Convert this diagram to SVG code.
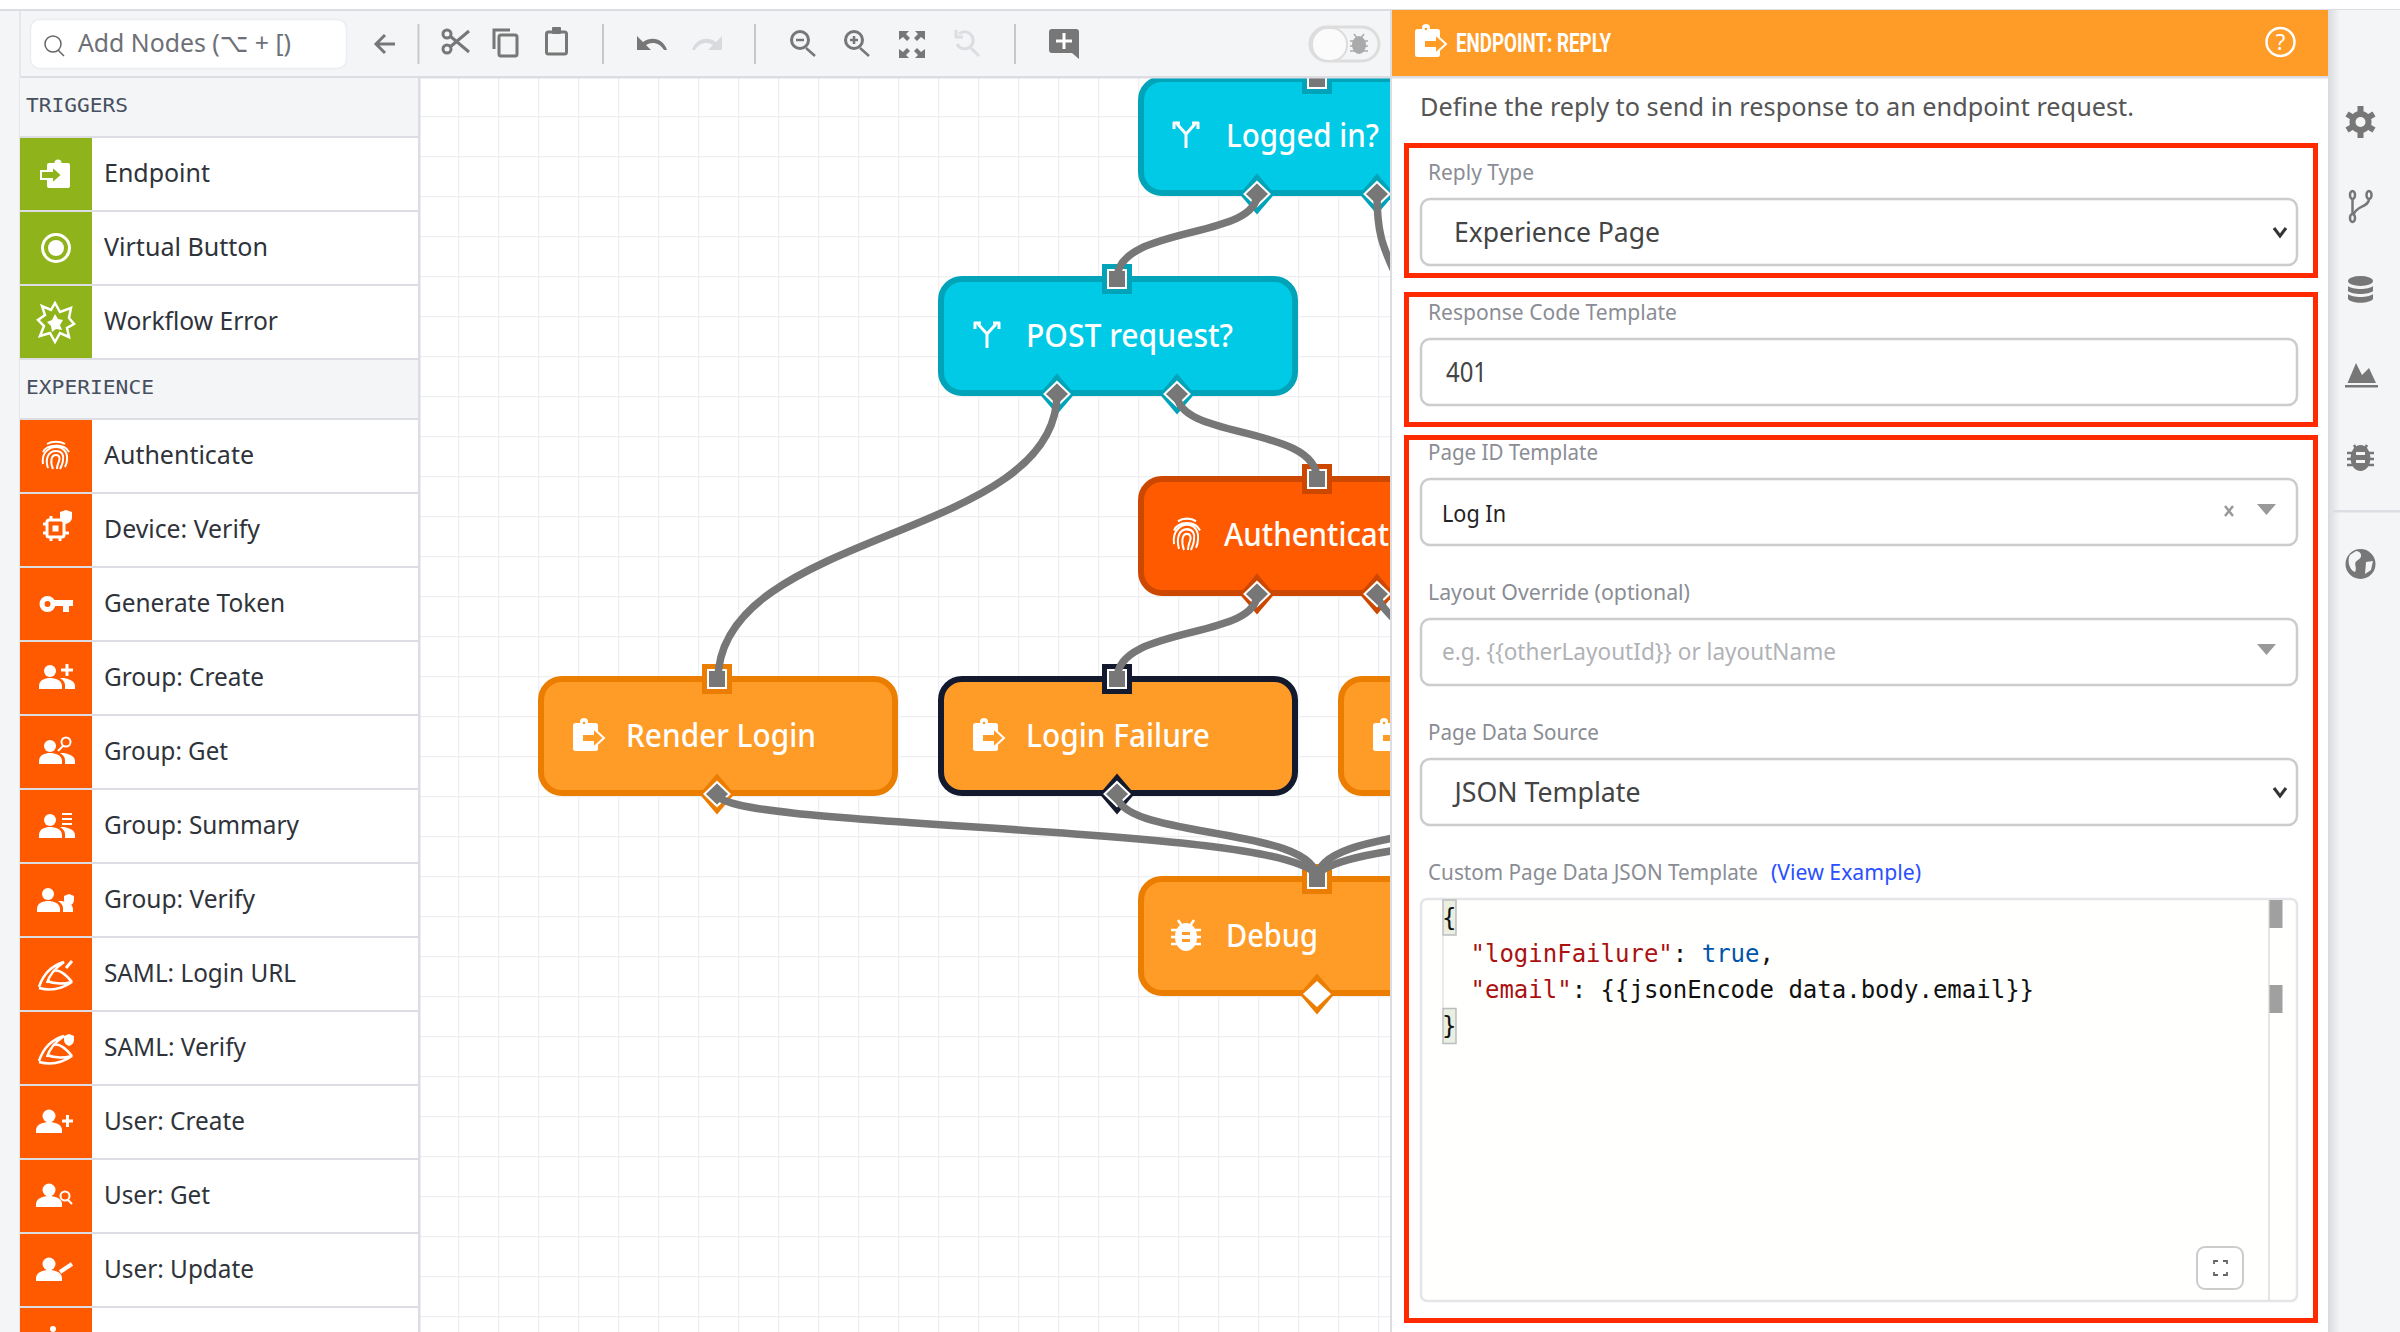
<svg xmlns="http://www.w3.org/2000/svg" width="2400" height="1332" viewBox="0 0 2400 1332">
<style>
text{font-family:"Noto Sans","Open Sans",sans-serif}
.side{font-size:26px;fill:#2f333a}
.mono{font-family:"DejaVu Sans Mono","Liberation Mono",monospace;font-size:20px;fill:#47505f}
.hdr{fill:#f4f5f7}
.sep{fill:#dcdde3}
.green{fill:#8fb31a}
.red{fill:#ff5a00}
.ti{fill:none;stroke:#777;stroke-width:3}
.tsep{stroke:#c6c8cc;stroke-width:2}
.nlabel{font-size:32px;fill:#fff;font-weight:500}
.cyan{color:#00a3b8}.dev{color:#cc4800}.ora{color:#eb7d00}.sel{color:#141a2e}
.cyan rect.b{fill:#00cae5;stroke:#00a3b8}
.dev rect.b{fill:#ff5a00;stroke:#cc4800}
.ora rect.b{fill:#ff9b27;stroke:#eb7d00}
.sel rect.b{fill:#ff9b27;stroke:#141a2e}
rect.b{stroke-width:6}
.po{fill:currentColor}
.pi{fill:#777;stroke:#fff;stroke-width:2}
.conn{fill:none;stroke:#777;stroke-width:7.5}
.lab{font-size:22px;fill:#8a8d94}
.val{font-size:28px;fill:#444}
.inp{fill:#fff;stroke:#ccc;stroke-width:2.5}
.redbox{fill:none;stroke:#ff2a00;stroke-width:5}
.code{font-family:"DejaVu Sans Mono","Liberation Mono",monospace;font-size:24px;fill:#111}
.rail{fill:#777}
</style>
<defs>
<pattern id="grid" patternUnits="userSpaceOnUse" x="18" y="36" width="40" height="40"><path d="M0.5 0V40M0 0.5H40" stroke="#eeeff1" stroke-width="1.5" fill="none"/></pattern>
<clipPath id="canvasClip"><rect x="420" y="78" width="970" height="1254"/></clipPath>
<linearGradient id="shade" x1="0" x2="1" y1="0" y2="0"><stop offset="0" stop-color="#d9dade"/><stop offset="1" stop-color="#f4f5f7"/></linearGradient>
<g id="port-in"><rect class="po" x="-15" y="-15" width="30" height="30"/><rect class="pi" x="-9" y="-9" width="18" height="18"/></g>
<g id="port-out"><polygon class="po" points="0,-20.5 17.5,0 0,20.5 -17.5,0"/><polygon class="pi" points="0,-12 12.5,0 0,12 -12.5,0"/></g>
<g id="i-reply"><rect x="-16" y="-12" width="25" height="28" rx="2.5" fill="#fff"/><circle cx="-5" cy="-13" r="4" fill="#fff"/><circle cx="-5" cy="-12" r="1.3" fill="currentColor"/><path d="M-7-1H4V-7L15 3 4 13V7H-7Z" fill="currentColor" stroke="#fff" stroke-width="2"/></g>
<g id="i-endpoint"><rect x="-8" y="-11" width="23" height="25" rx="2" fill="#fff"/><circle cx="3" cy="-11" r="3.5" fill="#fff"/><path d="M-14-3H-3V-8L7 1-3 10V5H-14Z" fill="currentColor" stroke="#fff" stroke-width="2"/></g>
<g id="i-branch" fill="none" stroke="#fff" stroke-width="3"><path d="M0 13V-1L-9-11M0-1 9-11"/><path d="M-13-12H-6M-12-13V-6M13-12H6M12-13V-6"/></g>
<g id="i-bug" fill="#fff"><ellipse cx="0" cy="1" rx="11" ry="14"/><path d="M-8-16l4 6M8-16l-4 6" stroke="#fff" stroke-width="2.5"/><path d="M-15-6h30M-15 1h30M-15 8h30" stroke="#fff" stroke-width="2.5"/><rect x="-4" y="-4" width="8" height="3" fill="currentColor"/><rect x="-4" y="3" width="8" height="3" fill="currentColor"/></g>
<g id="i-finger" fill="none" stroke="#fff" stroke-width="2"><path d="M-9-12C-4-15 4-15 9-12M-13-4C-9-12 8-13 13-4M-13 8C-15-5-5-9 0-9 7-9 12-4 11 4 11 7 10 9 9 11M-8 12C-11 3-8-5 0-5 6-5 8-1 7 4 7 6 6 9 4 13M-3 13C-6 6-5-1 0-1 4-1 4 3 3 5 2 8 1 9 1 13"/></g>
<g id="i-person"><circle cx="-5" cy="-6" r="6.5" fill="#fff"/><path d="M-18 11V8C-18 2-10 0-5 0S8 2 8 8V11Z" fill="#fff"/></g>
<g id="i-person2"><circle cx="-8" cy="-7" r="6" fill="#fff"/><path d="M-19 11V8C-19 2-13 0-8 0S4 2 4 8V11Z" fill="#fff"/><path d="M6 0C11 1 17 3 17 8V11H7V7C7 4 5 2 2 0Z" fill="#fff"/></g>
<g id="i-saml" fill="none" stroke="#fff" stroke-width="2.5"><path d="M-17 12C-13 0-6-9 8-13-2-6-7 1-9 8"/><path d="M-17 13C-6 16 6 14 16 7 8 9-2 9-9 6"/><path d="M-3-4C4-6 10 0 16 7"/></g>
</defs>

<rect width="2400" height="1332" fill="#fff"/>
<rect x="420" y="78" width="970" height="1254" fill="#fff"/>
<rect x="420" y="78" width="970" height="1254" fill="url(#grid)"/>

<g clip-path="url(#canvasClip)">
<g id="node-logged-in" class="cyan"><rect class="b" x="1141" y="79" width="354" height="114" rx="21"/><use href="#port-in" x="1317" y="79"/><use href="#port-out" x="1257" y="194"/><use href="#port-out" x="1377" y="194"/><use href="#i-branch" x="1186" y="135"/><text class="nlabel" x="1226" y="147" textLength="153" lengthAdjust="spacingAndGlyphs">Logged in?</text></g>
<g id="node-post" class="cyan"><rect class="b" x="941" y="279" width="354" height="114" rx="21"/><use href="#port-in" x="1117" y="279"/><use href="#port-out" x="1057" y="394"/><use href="#port-out" x="1177" y="394"/><use href="#i-branch" x="987" y="335"/><text class="nlabel" x="1026" y="347" textLength="207" lengthAdjust="spacingAndGlyphs">POST request?</text></g>
<g id="node-auth" class="dev"><rect class="b" x="1141" y="479" width="354" height="114" rx="21"/><use href="#port-in" x="1317" y="479"/><use href="#port-out" x="1257" y="594"/><use href="#port-out" x="1377" y="594"/><use href="#i-finger" transform="translate(1187 535) scale(1 1.15)"/><text class="nlabel" x="1224" y="546" textLength="182" lengthAdjust="spacingAndGlyphs">Authenticate</text></g>
<g id="node-render-login" class="ora"><rect class="b" x="541" y="679" width="354" height="114" rx="21"/><use href="#port-in" x="717" y="679"/><use href="#port-out" x="717" y="794"/><use href="#i-reply" x="589" y="735" color="#ff9b27"/><text class="nlabel" x="626" y="747" textLength="190" lengthAdjust="spacingAndGlyphs">Render Login</text></g>
<g id="node-login-failure" class="sel"><rect class="b" x="941" y="679" width="354" height="114" rx="21"/><use href="#port-in" x="1117" y="679"/><use href="#port-out" x="1117" y="794"/><use href="#i-reply" x="989" y="735" color="#ff9b27"/><text class="nlabel" x="1026" y="747" textLength="184" lengthAdjust="spacingAndGlyphs">Login Failure</text></g>
<g id="node-reply-3" class="ora"><rect class="b" x="1341" y="679" width="354" height="114" rx="21"/><use href="#i-reply" x="1389" y="735" color="#ff9b27"/></g>
<g id="node-debug" class="ora"><rect class="b" x="1141" y="879" width="354" height="114" rx="21"/><use href="#port-in" x="1317" y="879"/><polygon class="po" points="1317,973.5 1334.5,994 1317,1014.5 1299.5,994"/><polygon fill="#fff" points="1317,981 1331,994 1317,1007 1303,994"/><use href="#i-bug" x="1186" y="936" color="#ff9b27"/><text class="nlabel" x="1226" y="947" textLength="92" lengthAdjust="spacingAndGlyphs">Debug</text></g>

<g id="connectors">
<path class="conn" d="M1257 194C1257 240 1117 225 1117 279"/>
<path class="conn" d="M1377 194C1377 240 1385 250 1400 285"/>
<path class="conn" d="M1057 394C1057 540 718 530 718 680"/>
<path class="conn" d="M1177 394C1177 440 1317 425 1317 479"/>
<path class="conn" d="M1257 594C1257 640 1117 625 1117 679"/>
<path class="conn" d="M1377 594C1380 605 1385 610 1400 625"/>
<path class="conn" d="M717 794C717 830 1317 825 1317 879"/>
<path class="conn" d="M1117 794C1117 840 1317 825 1317 879"/>
<path class="conn" d="M1517 794C1517 840 1317 825 1317 879"/>
<path class="conn" d="M1917 794C1917 830 1317 825 1317 879"/>
</g>
</g>

<g id="toolbar">
<rect x="0" y="9" width="2400" height="2.5" class="sep"/>
<rect x="0" y="11" width="1392" height="65" class="hdr"/>
<rect x="0" y="76" width="1392" height="2.5" class="sep"/>
<rect x="30.5" y="19.5" width="316" height="49" rx="9" fill="#fff" stroke="#ecedf0" stroke-width="1.5"/>
<circle cx="53" cy="44" r="8" fill="none" stroke="#666" stroke-width="1.5"/><path d="M58 50L64 56" stroke="#666" stroke-width="1.5"/>
<text x="78" y="52" font-size="26" fill="#6d7076" textLength="213" lengthAdjust="spacingAndGlyphs" style="font-family:'Noto Sans','DejaVu Sans',sans-serif">Add Nodes (⌥ + [)</text>
<path class="ti" d="M395 44H376M385 35L376 44L385 53" stroke-width="2.5"/>
<line class="tsep" x1="418.5" y1="24" x2="418.5" y2="64"/>
<g class="ti"><circle cx="447" cy="34" r="4"/><circle cx="447" cy="49" r="4"/><path d="M450 36L469 52M450 47L469 31"/></g>
<path class="ti" d="M494 49V30H510" stroke-width="2.5"/><rect class="ti" x="499" y="35" width="18" height="21" rx="2"/>
<rect class="ti" x="546.5" y="32" width="20" height="22" rx="2"/><rect x="552" y="27" width="9" height="7" rx="1" fill="#777"/>
<line class="tsep" x1="603" y1="24" x2="603" y2="64"/>
<path d="M637 36V50H651L646 45C652 41 660 43 664 50H667C664 40 653 35 643 42Z" fill="#777"/>
<path d="M637 36V50H651L646 45C652 41 660 43 664 50H667C664 40 653 35 643 42Z" fill="#d9dadd" transform="translate(1359) scale(-1 1)"/>
<line class="tsep" x1="755" y1="24" x2="755" y2="64"/>
<g class="ti"><circle cx="800" cy="40" r="8.5"/><path d="M806 48L815 56M796 40H804" stroke-width="2.5"/><circle cx="854" cy="40" r="8.5"/><path d="M860 48L869 56M850 40H858M854 36V44" stroke-width="2.5"/></g>
<g fill="#777"><path d="M899 31h10l-3 3 4 4-3 3-4-4-4 3zM925 31h-10l3 3-4 4 3 3 4-4 4 3zM899 58h10l-3-3 4-4-3-3-4 4-4-3zM925 58h-10l3-3-4-4 3-3 4 4 4-3z"/></g>
<g fill="none" stroke="#dcdde0" stroke-width="3"><path d="M959 34A8.5 8.5 0 1 1 957 44"/><path d="M971 48L979 56"/><path d="M956 30V37H963"/></g>
<line class="tsep" x1="1015" y1="24" x2="1015" y2="64"/>
<path d="M1052 29H1076A3 3 0 0 1 1079 32V59L1072 53H1052A3 3 0 0 1 1049 50V32A3 3 0 0 1 1052 29Z" fill="#777"/><path d="M1056 41H1072M1064 33V49" stroke="#fff" stroke-width="3"/>
<rect x="1310" y="27" width="69" height="34" rx="17" fill="#f4f5f7" stroke="#ddd" stroke-width="3"/><rect x="1312" y="28" width="35" height="33" rx="16" fill="#fbfbfb" stroke="#ddd" stroke-width="2"/><g fill="#aaa"><ellipse cx="1359" cy="45" rx="7" ry="9"/><path d="M1354 34l3 4M1364 34l-3 4M1350 41h18M1350 46h18M1350 51h18" stroke="#aaa" stroke-width="1.5"/></g>
</g>

<g id="sidebar">
<rect x="0" y="11" width="20" height="1321" class="hdr"/><rect x="19" y="11" width="2" height="1321" fill="#e6e7eb"/>
<rect x="20" y="78" width="398" height="1254" fill="#fff"/>
<rect x="418" y="78" width="2.5" height="1254" class="sep"/>
<rect x="20" y="78" width="398" height="58" class="hdr"/><rect x="20" y="136" width="398" height="2" class="sep"/>
<text class="mono" x="26" y="112" textLength="102" lengthAdjust="spacingAndGlyphs">TRIGGERS</text>
<rect x="20" y="360" width="398" height="58" class="hdr"/><rect x="20" y="358" width="398" height="2" class="sep"/><rect x="20" y="418" width="398" height="2" class="sep"/>
<text class="mono" x="26" y="394" textLength="128" lengthAdjust="spacingAndGlyphs">EXPERIENCE</text>

<g id="p-endpoint"><rect class="green" x="20" y="138" width="72" height="72"/><use href="#i-endpoint" x="55" y="174" color="#8fb31a"/><text class="side" x="104" y="182" textLength="106" lengthAdjust="spacingAndGlyphs">Endpoint</text><rect class="sep" x="20" y="210" width="398" height="2"/></g>
<g id="p-virtual-button"><rect class="green" x="20" y="212" width="72" height="72"/><circle cx="56" cy="248" r="13.5" fill="none" stroke="#fff" stroke-width="3"/><circle cx="56" cy="248" r="8" fill="#fff"/><text class="side" x="104" y="256" textLength="164" lengthAdjust="spacingAndGlyphs">Virtual Button</text><rect class="sep" x="20" y="284" width="398" height="2"/></g>
<g id="p-workflow-error"><rect class="green" x="20" y="286" width="72" height="72"/><polygon points="55,306 60,315 71,311 69,321 74,327 67,331 69,340 60,336 55,345 50,336 40,339 44,329 38,323 45,318 42,309 51,313" transform="translate(0 -3)" fill="none" stroke="#fff" stroke-width="2.5"/><polygon points="55,314 58,319 63,320 60,325 62,330 56,329 52,332 51,326 47,322 52,320" fill="#fff"/><text class="side" x="104" y="330" textLength="174" lengthAdjust="spacingAndGlyphs">Workflow Error</text></g>

<g id="p-authenticate"><rect class="red" x="20" y="420" width="72" height="72"/><use href="#i-finger" x="56" y="456"/><text class="side" x="104" y="464" textLength="150" lengthAdjust="spacingAndGlyphs">Authenticate</text><rect class="sep" x="20" y="492" width="398" height="2"/></g>
<g id="p-device-verify"><rect class="red" x="20" y="494" width="72" height="72"/><g fill="none" stroke="#fff" stroke-width="3"><rect x="47" y="520" width="17" height="17" rx="2"/><path d="M43 524h4M43 533h4M64 533h5M51 516v4M60 537v4M51 537v4"/></g><rect x="52.5" y="525.5" width="6" height="6" fill="#fff"/><path d="M60 512l6-2 6 2v5c0 4-3 6-6 7-3-1-6-3-6-7z" fill="#fff"/><text class="side" x="104" y="538" textLength="156" lengthAdjust="spacingAndGlyphs">Device: Verify</text><rect class="sep" x="20" y="566" width="398" height="2"/></g>
<g id="p-generate-token"><rect class="red" x="20" y="568" width="72" height="72"/><circle cx="47.5" cy="604" r="5.5" fill="none" stroke="#fff" stroke-width="5"/><path d="M52 600H73V606H69V612H63V606H52Z" fill="#fff"/><text class="side" x="104" y="612" textLength="181" lengthAdjust="spacingAndGlyphs">Generate Token</text><rect class="sep" x="20" y="640" width="398" height="2"/></g>
<g id="p-group-create"><rect class="red" x="20" y="642" width="72" height="72"/><use href="#i-person2" x="58" y="678"/><path d="M61 670H73M67 664V676" stroke="#fff" stroke-width="3"/><text class="side" x="104" y="686" textLength="160" lengthAdjust="spacingAndGlyphs">Group: Create</text><rect class="sep" x="20" y="714" width="398" height="2"/></g>
<g id="p-group-get"><rect class="red" x="20" y="716" width="72" height="72"/><use href="#i-person2" x="58" y="753"/><circle cx="66" cy="742" r="4.5" fill="none" stroke="#fff" stroke-width="2"/><path d="M63 746L58 751" stroke="#fff" stroke-width="2"/><text class="side" x="104" y="760" textLength="124" lengthAdjust="spacingAndGlyphs">Group: Get</text><rect class="sep" x="20" y="788" width="398" height="2"/></g>
<g id="p-group-summary"><rect class="red" x="20" y="790" width="72" height="72"/><use href="#i-person2" x="58" y="827"/><path d="M62 814H72M62 819H72M62 824H72" stroke="#fff" stroke-width="2"/><text class="side" x="104" y="834" textLength="195" lengthAdjust="spacingAndGlyphs">Group: Summary</text><rect class="sep" x="20" y="862" width="398" height="2"/></g>
<g id="p-group-verify"><rect class="red" x="20" y="864" width="72" height="72"/><use href="#i-person2" x="56" y="901"/><path d="M64 896l5-2 5 2v4c0 3-2 5-5 6-3-1-5-3-5-6z" fill="#fff"/><text class="side" x="104" y="908" textLength="151" lengthAdjust="spacingAndGlyphs">Group: Verify</text><rect class="sep" x="20" y="936" width="398" height="2"/></g>
<g id="p-saml-login"><rect class="red" x="20" y="938" width="72" height="72"/><use href="#i-saml" x="56" y="975"/><path d="M66 968L72 961" stroke="#fff" stroke-width="3"/><text class="side" x="104" y="982" textLength="192" lengthAdjust="spacingAndGlyphs">SAML: Login URL</text><rect class="sep" x="20" y="1010" width="398" height="2"/></g>
<g id="p-saml-verify"><rect class="red" x="20" y="1012" width="72" height="72"/><use href="#i-saml" x="56" y="1049"/><path d="M64 1036l5-2 5 2v4c0 3-2 5-5 6-3-1-5-3-5-6z" fill="#fff"/><text class="side" x="104" y="1056" textLength="142" lengthAdjust="spacingAndGlyphs">SAML: Verify</text><rect class="sep" x="20" y="1084" width="398" height="2"/></g>
<g id="p-user-create"><rect class="red" x="20" y="1086" width="72" height="72"/><use href="#i-person" x="54" y="1122"/><path d="M62 1121H73M67.500 1115V1127" stroke="#fff" stroke-width="3"/><text class="side" x="104" y="1130" textLength="141" lengthAdjust="spacingAndGlyphs">User: Create</text><rect class="sep" x="20" y="1158" width="398" height="2"/></g>
<g id="p-user-get"><rect class="red" x="20" y="1160" width="72" height="72"/><use href="#i-person" x="54" y="1196"/><circle cx="65" cy="1196" r="4.5" fill="#ff5a00" stroke="#fff" stroke-width="2"/><path d="M68 1200L72 1204" stroke="#fff" stroke-width="2"/><text class="side" x="104" y="1204" textLength="106" lengthAdjust="spacingAndGlyphs">User: Get</text><rect class="sep" x="20" y="1232" width="398" height="2"/></g>
<g id="p-user-update"><rect class="red" x="20" y="1234" width="72" height="72"/><use href="#i-person" x="54" y="1270"/><path d="M60 1272L72 1264" stroke="#fff" stroke-width="4"/><text class="side" x="104" y="1278" textLength="150" lengthAdjust="spacingAndGlyphs">User: Update</text><rect class="sep" x="20" y="1306" width="398" height="2"/></g>
<rect class="red" x="20" y="1308" width="72" height="24"/><circle cx="53" cy="1329" r="3" fill="#fff"/>
</g>

<g id="panel">
<rect x="1390" y="11" width="2.5" height="1321" class="sep"/>
<rect x="1392" y="76" width="936" height="1256" fill="#fff"/>
<rect x="1392" y="10" width="936" height="66" fill="#ff9b27"/>
<rect x="1392" y="76" width="936" height="2.5" class="sep"/>
<use href="#i-reply" x="1431" y="41" color="#ff9b27"/>
<text x="1456" y="51.5" font-size="26" font-weight="700" fill="#fff" style="font-family:Roboto,'Noto Sans',sans-serif" textLength="155" lengthAdjust="spacingAndGlyphs">ENDPOINT: REPLY</text>
<circle cx="2280.5" cy="42" r="14" fill="none" stroke="#fff" stroke-width="2.5"/><text x="2280.5" y="50" font-size="22" fill="#fff" text-anchor="middle">?</text>
<text x="1420" y="115.500" font-size="26" fill="#555" textLength="714" lengthAdjust="spacingAndGlyphs">Define the reply to send in response to an endpoint request.</text>

<text class="lab" x="1428" y="180" textLength="106" lengthAdjust="spacingAndGlyphs">Reply Type</text>
<rect class="inp" x="1421" y="199" width="876" height="66" rx="9"/>
<text class="val" x="1454" y="242" textLength="206" lengthAdjust="spacingAndGlyphs">Experience Page</text>
<path d="M2274 228L2280 236L2286 228" fill="none" stroke="#333" stroke-width="3"/>

<text class="lab" x="1428" y="320" textLength="249" lengthAdjust="spacingAndGlyphs">Response Code Template</text>
<rect class="inp" x="1421" y="339" width="876" height="66" rx="9"/>
<text class="val" x="1446" y="382" font-size="26" textLength="41" lengthAdjust="spacingAndGlyphs">401</text>

<text class="lab" x="1428" y="460" textLength="170" lengthAdjust="spacingAndGlyphs">Page ID Template</text>
<rect class="inp" x="1421" y="479" width="876" height="66" rx="9"/>
<text x="1442" y="521.5" font-size="24" fill="#222" textLength="64" lengthAdjust="spacingAndGlyphs">Log In</text>
<path d="M2225 506L2233 516M2233 506L2225 516" stroke="#999" stroke-width="2.5"/>
<polygon points="2257,504 2276,504 2266.5,515" fill="#999"/>

<text class="lab" x="1428" y="600" textLength="262" lengthAdjust="spacingAndGlyphs">Layout Override (optional)</text>
<rect class="inp" x="1421" y="619" width="876" height="66" rx="9"/>
<text x="1442" y="660" font-size="24" fill="#b0b2b6" textLength="394" lengthAdjust="spacingAndGlyphs">e.g. {{otherLayoutId}} or layoutName</text>
<polygon points="2257,644 2276,644 2266.5,655" fill="#999"/>

<text class="lab" x="1428" y="740" textLength="171" lengthAdjust="spacingAndGlyphs">Page Data Source</text>
<rect class="inp" x="1421" y="759" width="876" height="66" rx="9"/>
<text class="val" x="1454.5" y="802" textLength="186" lengthAdjust="spacingAndGlyphs">JSON Template</text>
<path d="M2274 788L2280 796L2286 788" fill="none" stroke="#333" stroke-width="3"/>

<text class="lab" x="1428" y="880" textLength="330" lengthAdjust="spacingAndGlyphs">Custom Page Data JSON Template</text>
<text x="1771" y="880" font-size="22" fill="#2a4fff" textLength="150" lengthAdjust="spacingAndGlyphs">(View Example)</text>

<rect x="1421" y="899" width="876" height="402" rx="6" fill="#fffffd" stroke="#e4e5e9" stroke-width="2.5"/>
<line x1="1443" y1="936" x2="1443" y2="1008" stroke="#e4e4e4" stroke-width="1.5"/>
<rect x="1443" y="900" width="13" height="35" fill="#e9f0e2" stroke="#bdbdbd" stroke-width="1.5"/>
<rect x="1443" y="1008.5" width="13" height="35" fill="#e9f0e2" stroke="#bdbdbd" stroke-width="1.5"/>
<text class="code" x="1442" y="926">{</text>
<text class="code" x="1470.500" y="962"><tspan fill="#a11">"loginFailure"</tspan>: <tspan fill="#05a">true</tspan>,</text>
<text class="code" x="1470.500" y="998"><tspan fill="#a11">"email"</tspan>: {{jsonEncode data.body.email}}</text>
<text class="code" x="1442" y="1034">}</text>
<line x1="2269" y1="900" x2="2269" y2="1300" stroke="#ddd" stroke-width="1.5"/>
<rect x="2269.5" y="900" width="13" height="28" fill="#a0a0a0"/><rect x="2269.5" y="985" width="13" height="28" fill="#a0a0a0"/>
<rect x="2197" y="1247" width="46" height="42" rx="8" fill="#fff" stroke="#ccc" stroke-width="2"/>
<path d="M2214 1264V1261H2218M2223 1261H2227V1264M2227 1272V1275H2223M2218 1275H2214V1272" fill="none" stroke="#666" stroke-width="1.8"/>

<rect class="redbox" x="1406.5" y="145.5" width="909" height="130"/>
<rect class="redbox" x="1406.5" y="294.5" width="909" height="130"/>
<rect class="redbox" x="1406.5" y="437.5" width="909" height="883"/>
</g>

<g id="rail">
<rect x="2328" y="10" width="72" height="1322" class="hdr"/>
<rect x="2328" y="10" width="12" height="1322" fill="url(#shade)"/>
<rect x="2333" y="510" width="67" height="2.5" class="sep"/>
<g class="rail"><circle cx="2360.5" cy="122" r="11"/><path d="M2360.5 106V138M2347 114L2374 130M2347 130L2374 114" stroke="#777" stroke-width="6"/><circle cx="2360.5" cy="122" r="5" fill="#f4f5f7"/></g>
<g fill="none" stroke="#777" stroke-width="2.5"><ellipse cx="2352.5" cy="195" rx="2.5" ry="4"/><ellipse cx="2352.5" cy="218" rx="2.5" ry="4"/><ellipse cx="2369" cy="195" rx="2.5" ry="4"/><path d="M2352.5 199V214M2369 199C2369 207 2356 206 2354 214"/></g>
<g class="rail"><ellipse cx="2360.5" cy="281" rx="12.5" ry="5"/><path d="M2348 286C2352 290 2369 290 2373 286V291C2369 295 2352 295 2348 291ZM2348 294C2352 298 2369 298 2373 294V299C2369 304 2352 304 2348 299Z"/></g>
<path d="M2347.500 383L2356 363 2362 375 2369 368 2376 383Z" fill="#777"/><rect x="2345" y="385" width="33" height="2.5" fill="#777"/>
<g fill="#777"><ellipse cx="2360.5" cy="458" rx="10" ry="13"/><path d="M2354 445l3 5M2367 445l-3 5M2347 453h27M2347 459h27M2347 465h27" stroke="#777" stroke-width="2.5"/><rect x="2356" y="452" width="9" height="3" fill="#f4f5f7"/><rect x="2356" y="460" width="9" height="3" fill="#f4f5f7"/></g>
<circle cx="2360.5" cy="564" r="15" fill="#777"/><path d="M2356 551C2363 552 2362 558 2358 560 2352 563 2358 567 2355 572 2349 570 2347 560 2350 555ZM2366 562L2373 561 2371 570 2365 574Z" fill="#f4f5f7"/>
</g>
</svg>
